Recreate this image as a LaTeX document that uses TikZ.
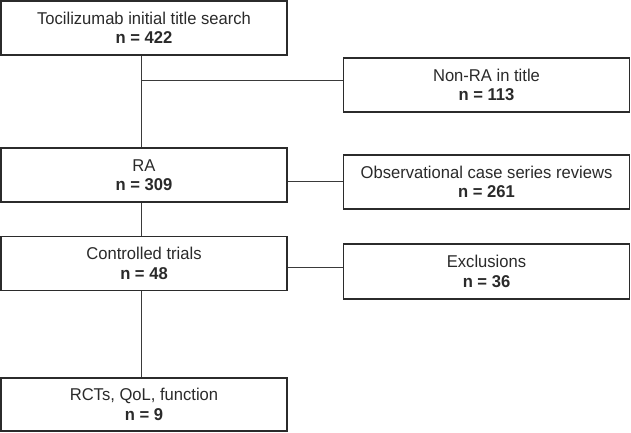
\documentclass[tikz,border=0pt]{standalone}
\usepackage{fontspec}
\setmainfont{Liberation Sans}[FakeStretch=0.97]
\definecolor{boxline}{HTML}{2B2B2B}
\definecolor{conn}{HTML}{3A3A3A}
\definecolor{txt}{HTML}{2A2A2A}
\begin{document}
\begin{tikzpicture}[x=1pt,y=-1pt,
  flowbox/.style={draw=boxline, line width=1.3pt, minimum width=286pt, minimum height=54pt,
    inner sep=0pt, align=center, text=txt, font=\fontsize{17.1}{19.5}\selectfont},
  link/.style={draw=conn, line width=0.9pt}]
\useasboundingbox (0,0) rectangle (631,433);
\node[flowbox] (b1) at (144,28) {Tocilizumab initial title search\\\textbf{n = 422}};
\node[flowbox] (b2) at (486.5,85) {Non-RA in title\\\textbf{n = 113}};
\node[flowbox] (b3) at (144,175) {RA\\\textbf{n = 309}};
\node[flowbox] (b4) at (486.5,182) {Observational case series reviews\\\textbf{n = 261}};
\node[flowbox] (b5) at (144,263.5) {Controlled trials\\\textbf{n = 48}};
\node[flowbox, minimum height=55pt] (b6) at (486.5,271.5) {Exclusions\\\textbf{n = 36}};
\node[flowbox, minimum height=53pt] (b7) at (144,404.5) {RCTs, QoL, function\\\textbf{n = 9}};
\coordinate (vx) at (141,0);
\coordinate (j1) at (141,80);
\coordinate (h2) at (0,181);
\coordinate (h3) at (0,267);
\draw[link] (b1.south -| vx) -- (b3.north -| vx);
\draw[link] (b3.south -| vx) -- (b5.north -| vx);
\draw[link] (b5.south -| vx) -- (b7.north -| vx);
\draw[link] (j1) -- (j1 -| b2.west);
\draw[link] (b3.east |- h2) -- (b4.west |- h2);
\draw[link] (b5.east |- h3) -- (b6.west |- h3);
\end{tikzpicture}
\end{document}
